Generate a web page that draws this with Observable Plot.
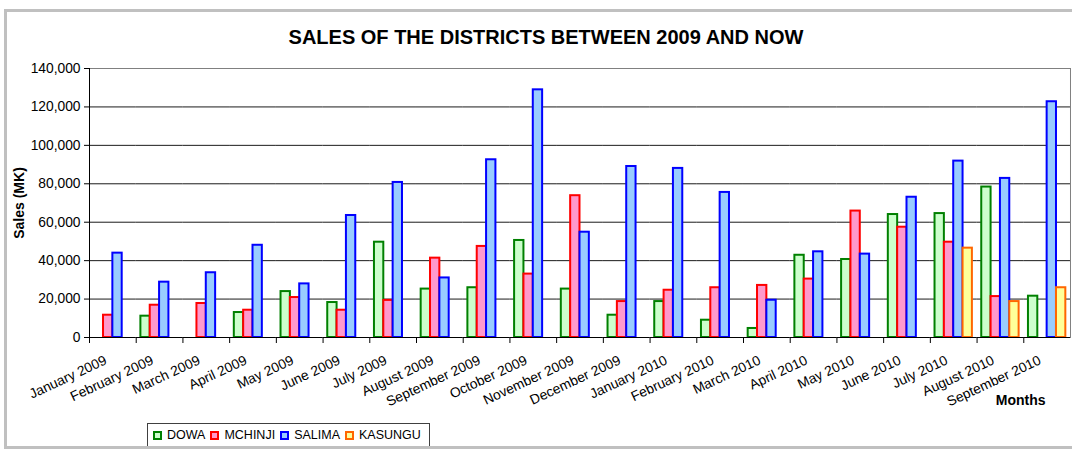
<!DOCTYPE html>
<html><head><meta charset="utf-8">
<script src="https://cdn.jsdelivr.net/npm/d3@7"></script>
<script src="https://cdn.jsdelivr.net/npm/@observablehq/plot@0.6"></script>
<style>
body{margin:0;background:#fff;font-family:"Liberation Sans",Arial,sans-serif;}
#wrap{position:relative;width:1072px;height:449px;overflow:hidden;background:#fff;}
#border{position:absolute;left:4px;top:9px;width:1090px;height:440px;box-sizing:border-box;border:3px solid #c0c0c0;z-index:3;}
#title{position:absolute;left:0;top:27px;width:1092px;text-align:center;font-weight:bold;font-size:20px;line-height:20px;color:#000;}
#chart{position:absolute;left:0;top:58px;}
#legend{position:absolute;left:147px;top:423px;height:26px;box-sizing:border-box;border:1px solid #404040;display:flex;align-items:center;padding:0 5px 2px 5px;font-size:12.5px;color:#000;z-index:2;background:#fff;}
.item{display:flex;align-items:center;margin-right:5px;}
.item:last-child{margin-right:3px;}
.sw{width:9px;height:9px;box-sizing:border-box;border:2px solid;margin-right:5px;}
</style>
</head><body>
<div id="wrap">
  <div id="title">SALES OF THE DISTRICTS BETWEEN 2009 AND NOW</div>
  <div id="chart"></div>
  <div id="legend"></div>
  <div id="border"></div>
</div>
<script>
const months = ["January 2009","February 2009","March 2009","April 2009","May 2009","June 2009","July 2009","August 2009","September 2009","October 2009","November 2009","December 2009","January 2010","February 2010","March 2010","April 2010","May 2010","June 2010","July 2010","August 2010","September 2010"];
const series = ["DOWA","MCHINJI","SALIMA","KASUNGU"];
const dowa    = [null,11100,null,13000,23900,18200,49600,25200,25900,50500,25200,11600,18700,9000,4700,42800,40600,64000,64500,78300,21500];
const mchinji = [11600,16800,17700,14200,20800,14200,19300,41300,47400,33000,73800,18700,24600,25900,27100,30400,65800,57400,49600,21300,null];
const salima  = [43900,28800,33700,48000,27900,63500,80700,31000,92500,128900,54800,89000,88000,75500,19400,44600,43400,73000,91800,82800,122700];
const kasungu = [null,null,null,null,null,null,null,null,null,null,null,null,null,null,null,null,null,null,46500,18700,25900];
const yTicks = [0,20000,40000,60000,80000,100000,120000,140000];
const fills = ["#ccffcc","#ff99cc","#99ccff","#ffff99"];
const strokes = ["#008000","#ff0000","#0000ff","#ff6600"];

const values = [dowa, mchinji, salima, kasungu];
const rows = months.flatMap((m, i) => series.map((s, j) => ({month: m, series: s, value: values[j][i]})))
  .filter(d => d.value != null);

const W = 1072, H = 362, mt = 10, mb = 83, ml = 89, mr = 2;
const plotH = H - mt - mb;

const chart = Plot.plot({
  width: W, height: H, marginTop: mt, marginBottom: mb, marginLeft: ml, marginRight: mr,
  style: {fontFamily: "'Liberation Sans', Arial, sans-serif", fontSize: "13.8px", color: "#000", background: "transparent", overflow: "visible"},
  fx: {domain: months, padding: 0, round: false, label: null},
  x: {domain: series, paddingInner: 0, paddingOuter: 0.5, round: false, axis: null},
  y: {domain: [0, 140000]},
  marks: [
    Plot.gridY(yTicks.slice(1, -1), {stroke: "#000", strokeOpacity: 0.9}),
    Plot.frame({anchor: "top", stroke: "#808080", strokeOpacity: 1}),
    Plot.frame({anchor: "right", stroke: "#808080", strokeOpacity: 1, facetAnchor: "right"}),
    ...series.map((s, j) => Plot.barY(rows.filter(d => d.series === s), {
      fx: "month", x: "series", y: "value", fill: fills[j], stroke: strokes[j], strokeWidth: 2
    })),
    Plot.ruleY([0], {stroke: "#000"}),
    Plot.frame({anchor: "left", stroke: "#000", strokeOpacity: 1, facetAnchor: "left"}),
    Plot.frame({anchor: "left", stroke: "#000", strokeOpacity: 1, insetTop: plotH, insetBottom: -5}),
    Plot.axisY({ticks: yTicks, tickFormat: d3.format(","), tickSize: 5, tickPadding: 4, label: null}),
    Plot.axisFx({anchor: "bottom", tickSize: 0, tickRotate: -25, tickPadding: 22, dx: -7, textAnchor: "end", lineAnchor: "middle", label: null}),
    Plot.text(["Sales (MK)"], {text: d => d, frameAnchor: "left", textAnchor: "middle", lineAnchor: "middle", rotate: -90, dx: -70, fontWeight: "bold", fontSize: 14, facetAnchor: "left"}),
    Plot.text(["Months"], {text: d => d, frameAnchor: "bottom-right", textAnchor: "end", dx: -25, dy: 67, fontWeight: "bold", fontSize: 14, facetAnchor: "right"})
  ]
});
document.getElementById("chart").appendChild(chart);

const legend = document.getElementById("legend");
series.forEach((s, j) => {
  const it = document.createElement("div");
  it.className = "item";
  const sw = document.createElement("span");
  sw.className = "sw";
  sw.style.background = fills[j];
  sw.style.borderColor = strokes[j];
  const t = document.createElement("span");
  t.textContent = s;
  it.appendChild(sw); it.appendChild(t);
  legend.appendChild(it);
});
</script>
</body></html>
